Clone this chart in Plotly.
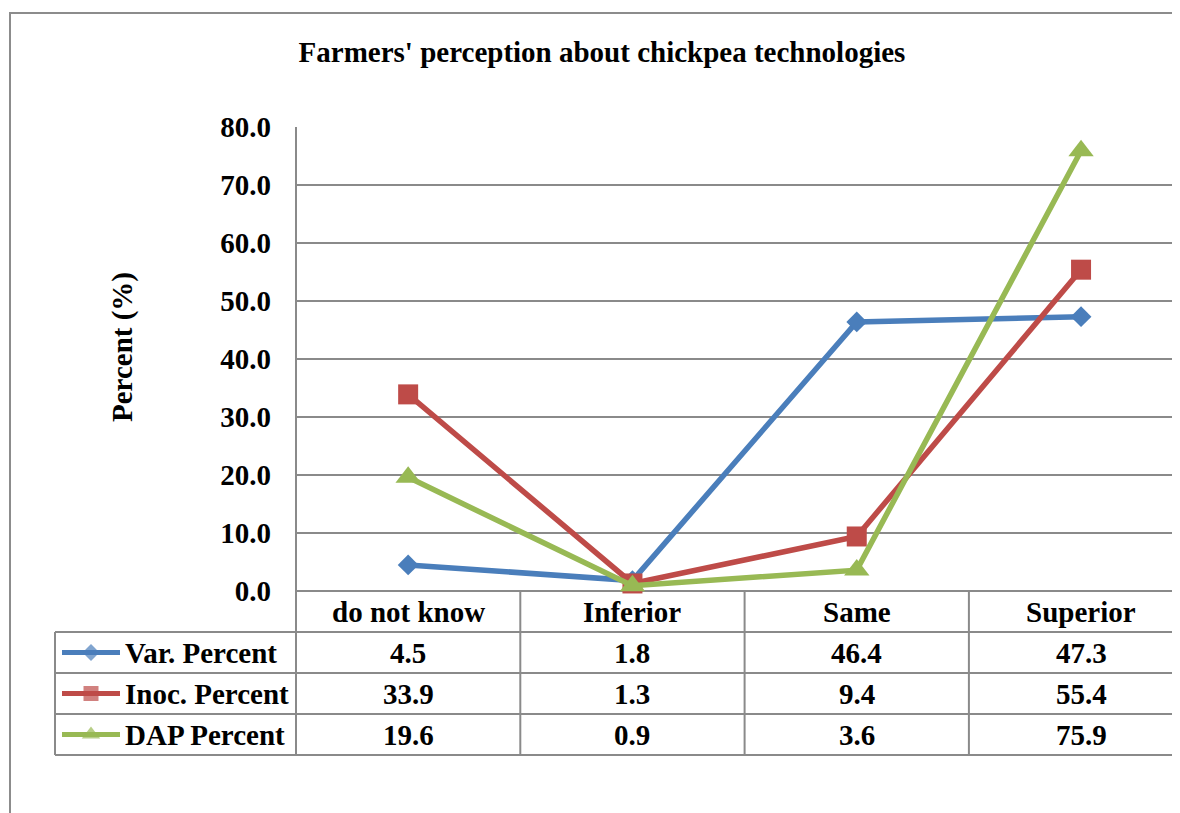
import plotly.graph_objects as go

# ---------------- data ----------------
categories = ["do not know", "Inferior", "Same", "Superior"]
series_names = ["Var. Percent", "Inoc. Percent", "DAP Percent"]
var_percent = [4.5, 1.8, 46.4, 47.3]
inoc_percent = [33.9, 1.3, 9.4, 55.4]
dap_percent = [19.6, 0.9, 3.6, 75.9]
y_tick_values = [0, 10, 20, 30, 40, 50, 60, 70, 80]
title_text = "Farmers' perception about chickpea technologies"
y_title = "Percent (%)"

# ---------------- layout constants (page pixels) ----------------
OFF = 8                      # page body margin
W, H = 1180 - OFF, 813 - OFF  # figure size
PLOT_L, PLOT_R, PLOT_T, PLOT_B = 296, 1180, 127, 591
CAT_W = 224.3
ROW_H = 41
TABLE_L = 55
FONT = "Liberation Serif"
FS = 29
GRID = "#8A8A8A"


def px(x):
    return (x - OFF) / W


def py(y):
    return 1 - (y - OFF) / H


colors = ["#4A7EBB", "#BE4B48", "#98B954"]
symbols = ["diamond", "square", "triangle-up"]
msizes = [16, 20, 22]
key_sizes = [13, 15, 16]
values = [var_percent, inoc_percent, dap_percent]

x_end = -0.5 + (PLOT_R - PLOT_L) / CAT_W

fig = go.Figure()
for name, vals, c, s, ms in zip(series_names, values, colors, symbols, msizes):
    fig.add_trace(go.Scatter(
        x=categories, y=vals, mode="lines+markers", name=name,
        line=dict(color=c, width=5.5), marker=dict(symbol=s, size=ms, color=c, line=dict(width=0)),
        cliponaxis=False, showlegend=False, xaxis="x", yaxis="y",
    ))

# legend keys inside the data table (overlay pixel-space axes)
for r, (c, s, ks) in enumerate(zip(colors, symbols, key_sizes)):
    yc = PLOT_B + ROW_H * (r + 1) + ROW_H / 2
    fig.add_trace(go.Scatter(
        x=[62, 91, 120], y=[yc, yc, yc], mode="lines+markers",
        line=dict(color=c, width=5), marker=dict(symbol=s, size=[0, ks, 0], color=c, line=dict(width=0)),
        showlegend=False, hoverinfo="skip", xaxis="x2", yaxis="y2", cliponaxis=False,
    ))

shapes = []
# outer chart frame
shapes.append(dict(type="rect", xref="paper", yref="paper", x0=px(10), x1=px(1200),
                   y0=py(840), y1=py(13), line=dict(color="#8C8C8C", width=2), layer="below"))
# plot-area left border continuing into table
shapes.append(dict(type="line", xref="paper", yref="paper", x0=px(PLOT_L), x1=px(PLOT_L),
                   y0=py(PLOT_T), y1=py(PLOT_B + 4 * ROW_H), line=dict(color=GRID, width=2)))
# table horizontal lines
shapes.append(dict(type="line", xref="paper", yref="paper", x0=px(PLOT_L), x1=1,
                   y0=py(PLOT_B), y1=py(PLOT_B), line=dict(color=GRID, width=2), layer="below"))
for k in range(1, len(series_names) + 2):
    yy = PLOT_B + k * ROW_H
    shapes.append(dict(type="line", xref="paper", yref="paper", x0=px(TABLE_L), x1=1,
                       y0=py(yy), y1=py(yy), line=dict(color=GRID, width=2)))
# table left border of legend column
shapes.append(dict(type="line", xref="paper", yref="paper", x0=px(TABLE_L), x1=px(TABLE_L),
                   y0=py(PLOT_B + ROW_H), y1=py(PLOT_B + 4 * ROW_H), line=dict(color=GRID, width=2)))
# vertical separators between categories
for i in range(len(categories)):
    xb = i + 0.5
    if xb < x_end:
        shapes.append(dict(type="line", xref="x", yref="paper", x0=xb, x1=xb,
                           y0=py(PLOT_B), y1=py(PLOT_B + 4 * ROW_H), line=dict(color=GRID, width=2)))

annotations = []
bold = dict(family=FONT, size=FS, color="black", weight="bold")
# header row (categories)
for cat in categories:
    annotations.append(dict(text=cat, xref="x", yref="paper", x=cat, y=py(PLOT_B + ROW_H / 2),
                            showarrow=False, xanchor="center", yanchor="middle", font=bold))
# value rows
for r, (name, vals) in enumerate(zip(series_names, values)):
    yc = PLOT_B + ROW_H * (r + 1) + ROW_H / 2
    annotations.append(dict(text=name, xref="paper", yref="paper", x=px(123), y=py(yc),
                            showarrow=False, xanchor="left", yanchor="middle", font=bold))
    for cat, v in zip(categories, vals):
        annotations.append(dict(text=f"{v:.1f}", xref="x", yref="paper", x=cat, y=py(yc),
                                showarrow=False, xanchor="center", yanchor="middle", font=bold))
# y axis title
annotations.append(dict(text=y_title, xref="paper", yref="paper", x=px(122), y=py(347),
                        showarrow=False, textangle=-90, xanchor="center", yanchor="middle", font=bold))

fig.update_layout(
    width=W, height=H,
    margin=dict(l=0, r=0, t=0, b=0, pad=0),
    paper_bgcolor="white", plot_bgcolor="rgba(0,0,0,0)",
    title=dict(text=title_text, x=px(602), xanchor="center", y=py(52), yanchor="middle",
               font=dict(family=FONT, size=FS, color="black", weight="bold")),
    xaxis=dict(domain=[px(PLOT_L), px(PLOT_R)], type="category", range=[-0.5, x_end],
               showticklabels=False, showgrid=False, zeroline=False, showline=False, ticks="",
               automargin=False),
    yaxis=dict(domain=[py(PLOT_B), py(PLOT_T)], range=[0, 80], tickvals=y_tick_values,
               tickformat=".1f", showgrid=True, gridcolor=GRID, gridwidth=2, zeroline=False,
               showline=False, ticks="", ticklabelstandoff=24, automargin=False,
               tickfont=dict(family=FONT, size=FS, color="black", weight="bold")),
    xaxis2=dict(domain=[0, 1], range=[OFF, W + OFF], visible=False, anchor="y2", automargin=False),
    yaxis2=dict(domain=[0, 1], range=[H + OFF, OFF], visible=False, anchor="x2", automargin=False),
    shapes=shapes, annotations=annotations,
)

fig.write_html("out.html")
